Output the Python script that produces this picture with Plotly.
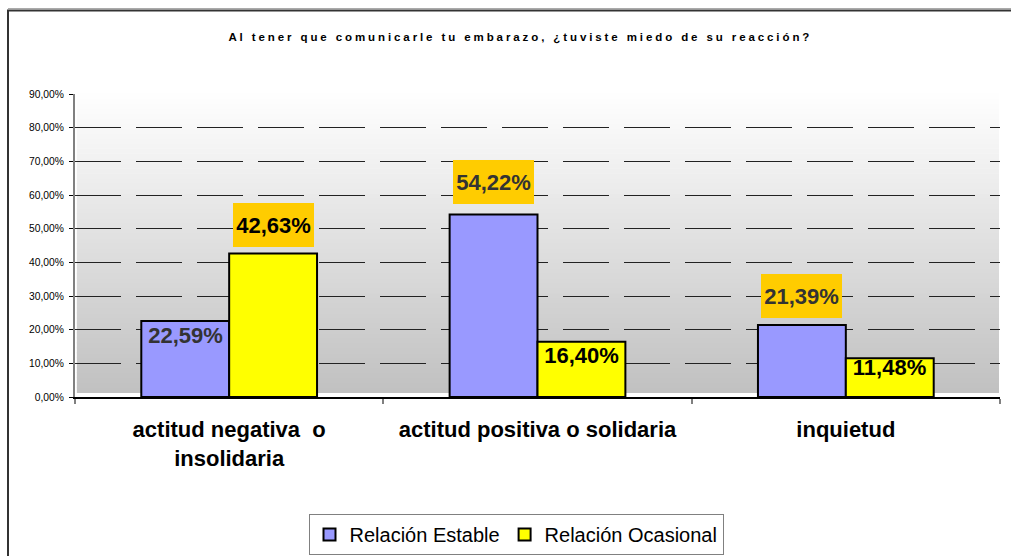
import plotly.graph_objects as go

# ---- data ----
categories = ["actitud negativa  o<br>insolidaria", "actitud positiva o solidaria", "inquietud"]
estable = [22.59, 54.22, 21.39]
ocasional = [42.63, 16.40, 11.48]
series_names = ["Relación Estable", "Relación Ocasional"]
title_text = "Al tener que comunicarle tu embarazo, ¿tuviste miedo de su reacción?"
y_ticks = [0, 10, 20, 30, 40, 50, 60, 70, 80, 90]

# ---- style ----
colors = ["#9999FF", "#FFFF00"]
label_colors = ["#333333", "#000000"]
# label placement per point: vertical offset (px) of label centre from bar top, boxed or not
label_offsets = [[-14, 32, 29], [28, -13, -9]]
label_boxed = [[False, True, True], [True, False, False]]
bar_half = 44  # px, half width of one bar

FONT = "Liberation Sans, Arial, sans-serif"

fig = go.Figure()
for name, vals, col in zip(series_names, [estable, ocasional], colors):
    fig.add_trace(go.Bar(
        x=categories, y=vals, name=name,
        marker=dict(color=col, line=dict(color="#000000", width=2)),
        hoverinfo="skip",
    ))

# data labels
annotations = []
for si, vals in enumerate([estable, ocasional]):
    shift = -bar_half if si == 0 else bar_half
    for ci, v in enumerate(vals):
        boxed = label_boxed[si][ci]
        txt = f"{v:.2f}%".replace(".", ",")
        annotations.append(dict(
            x=categories[ci], y=v, xref="x", yref="y",
            text=f"<b>{txt}</b>", showarrow=False,
            xshift=shift, yshift=label_offsets[si][ci],
            yanchor="middle", xanchor="center",
            font=dict(family=FONT, size=22, color=label_colors[si]),
            bgcolor="#FFCC00" if boxed else "rgba(0,0,0,0)",
            width=81, height=44, borderpad=0, borderwidth=0,
        ))

# title (letter-spaced afterwards in the page, like the original)
annotations.append(dict(
    x=(520 - 75) / 925, y=(397 - 38) / 303, xref="paper", yref="paper",
    text=f"<b>{title_text}</b>", showarrow=False,
    xanchor="center", yanchor="middle",
    font=dict(family=FONT, size=11.5, color="#000000"),
    name="charttitle",
))

# gradient background stripes (white top -> silver bottom)
shapes = []
n = 60
g_bottom = (397 - 393) / 303
for i in range(n):
    f0 = i / n
    f1 = (i + 1) / n
    c = int(round(192 + (255 - 192) * (f0 + f1) / 2))
    shapes.append(dict(
        type="rect", xref="paper", yref="paper", layer="below",
        x0=0.002, x1=(999 - 75) / 925,
        y0=g_bottom + (1 - g_bottom) * f0, y1=g_bottom + (1 - g_bottom) * f1 + 0.002,
        fillcolor=f"rgb({c},{c},{c})", line=dict(width=0),
    ))

# outer chart frame
shapes.append(dict(
    type="rect", xref="paper", yref="paper", layer="above",
    x0=(8 - 75) / 925, x1=1.2, y0=-0.8, y1=(397 - 10.5) / 303,
    line=dict(color="#333333", width=2), fillcolor="rgba(0,0,0,0)",
))
shapes.append(dict(
    type="line", xref="paper", yref="paper", layer="above",
    x0=(8 - 75) / 925, x1=1.2, y0=(397 - 8.5) / 303, y1=(397 - 8.5) / 303,
    line=dict(color="#AAAAAA", width=1),
))

fig.update_layout(
    width=1011, height=556,
    margin=dict(l=75, r=11, t=94, b=159, pad=0, autoexpand=False),
    paper_bgcolor="#FFFFFF", plot_bgcolor="rgba(0,0,0,0)",
    barmode="group", bargap=0.43, bargroupgap=0,
    separators=", ",
    font=dict(family=FONT, color="#000000"),
    showlegend=True,
    legend=dict(
        orientation="h", xref="container", yref="container",
        x=516 / 1011, xanchor="center",
        y=1 - 514 / 556, yanchor="top",
        bordercolor="#808080", borderwidth=1, bgcolor="#FFFFFF",
        font=dict(family=FONT, size=20, color="#000000"),
        itemclick=False, itemdoubleclick=False,
    ),
    annotations=annotations,
    shapes=shapes,
    hovermode=False,
)

fig.update_xaxes(
    type="category", automargin=False,
    showline=True, linecolor="#000000", linewidth=1.5,
    ticks="outside", tickson="boundaries", ticklen=5, tickcolor="#808080", tickwidth=2,
    tickfont=dict(family=FONT, size=22, color="#000000"),
    ticklabelstandoff=12,
    showgrid=False, fixedrange=True,
    tickvals=categories, ticktext=[f"<b>{c}</b>" for c in categories],
)
fig.update_yaxes(
    range=[0, 90], tickvals=y_ticks, automargin=False,
    ticktext=[f"{t:.2f}%".replace(".", ",") for t in y_ticks],
    showline=True, linecolor="#808080", linewidth=2,
    ticks="outside", ticklen=4, tickcolor="#000000", tickwidth=1,
    tickfont=dict(family=FONT, size=10.3, color="#000000"),
    ticklabelstandoff=3,
    showgrid=True, gridcolor="#222222", gridwidth=1, griddash="46px,15px",
    zeroline=False, fixedrange=True,
)

post = """
document.body.style.margin='0';
document.querySelectorAll('.annotation-text').forEach(function(t){
  if (t.textContent.indexOf('Al tener') === 0) { t.style.letterSpacing = '2.9px'; }
});
"""
fig.write_html("out.html", config={"displayModeBar": False, "staticPlot": True},
               post_script=post)
